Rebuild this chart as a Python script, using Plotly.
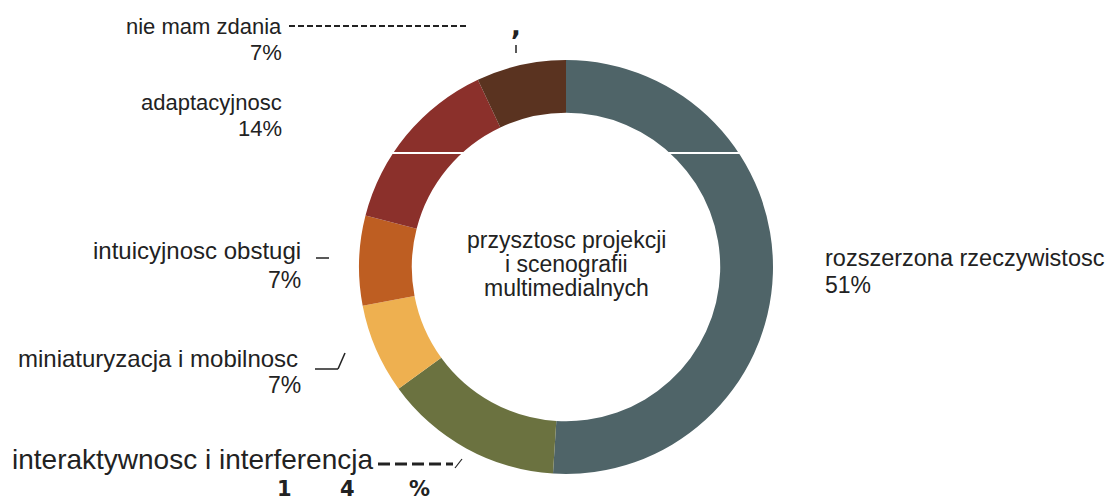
import plotly.graph_objects as go

# Survey answers: the future of projection and multimedia scenography
categories = [
    "rozszerzona rzeczywistosc",
    "interaktywnosc i interferencja",
    "miniaturyzacja i mobilnosc",
    "intuicyjnosc obstugi",
    "adaptacyjnosc",
    "nie mam zdania",
]
shares = [51, 14, 7, 7, 14, 7]
colors = ["#4F6468", "#6B7240", "#EEB050", "#BE5E22", "#8B302B", "#5A3320"]
center_title = ["przysztosc projekcji", "i scenografii", "multimedialnych"]

W, H = 1111, 500
CX, CY, R = 566, 267, 207
TXT = "#222222"
FONT = "Liberation Sans, Arial, sans-serif"


def px(x):
    return x / W


def py(y):
    return 1 - y / H


fig = go.Figure(
    go.Pie(
        labels=categories,
        values=shares,
        marker=dict(colors=colors, line=dict(width=0)),
        hole=0.745,
        sort=False,
        direction="clockwise",
        rotation=0,
        textinfo="none",
        hoverinfo="label+percent",
        showlegend=False,
        domain=dict(x=[px(CX - R), px(CX + R)], y=[py(CY + R), py(CY - R)]),
    )
)

annotations = []


def label(text, x, y, size=22, anchor="right", family=FONT, weight="normal"):
    annotations.append(dict(
        text=text, x=px(x), y=py(y), xref="paper", yref="paper",
        xanchor=anchor, yanchor="middle", showarrow=False,
        font=dict(family=family, size=size, color=TXT, weight=weight),
    ))


# Labels: name on one line, share underneath
pct = {c: f"{v}%" for c, v in zip(categories, shares)}
label(categories[5], 284, 26, 22)
label(pct[categories[5]], 284, 53, 22)
label(categories[4], 284, 103, 22)
label(pct[categories[4]], 284, 128, 22)
label(categories[3], 303, 250, 24)
label(pct[categories[3]], 303, 280, 23)
label(categories[2], 300, 358, 24)
label(pct[categories[2]], 303, 385, 23)
label(categories[1], 375, 459, 28)
label(categories[0], 823, 258, 23.5, anchor="left")
label(pct[categories[0]], 823, 285, 23, anchor="left")

# Wide share figure under the bottom-left label
big = pct[categories[1]]
for ch, x in zip(big, [284, 347, 419]):
    label(ch, x, 489, 21, anchor="center",
          family="DejaVu Sans, sans-serif", weight="bold")

# Centre caption
for i, line in enumerate(center_title):
    label(line, CX, 240 + i * 24, 23, anchor="center")

# Small comma mark beside the top leader
label(",", 516, 26, 26, anchor="center",
      family="DejaVu Sans, sans-serif", weight="bold")

shapes = []


def seg(x0, y0, x1, y1, width=1.5, dash="solid", color=TXT):
    shapes.append(dict(
        type="line", xref="paper", yref="paper",
        x0=px(x0), y0=py(y0), x1=px(x1), y1=py(y1),
        line=dict(color=color, width=width, dash=dash),
    ))


# Leader strokes
seg(289, 26, 466, 26, 2, "6px,3px")
seg(516, 45, 516, 53, 1.5)
seg(316, 258, 329, 258, 1.5)
seg(315, 369, 338, 369, 1.5)
seg(338, 369, 345, 353, 1.5)
seg(378, 464, 453, 464, 3, "12px,5px")
seg(455, 468, 462, 459, 1.2)

# Thin white streak crossing the upper ring
seg(340, 153, 780, 153, 2.2, "solid", "#FFFFFF")

fig.update_layout(
    width=W, height=H,
    margin=dict(l=0, r=0, t=0, b=0),
    paper_bgcolor="white", plot_bgcolor="white",
    annotations=annotations, shapes=shapes,
)

fig.write_html("out.html")
